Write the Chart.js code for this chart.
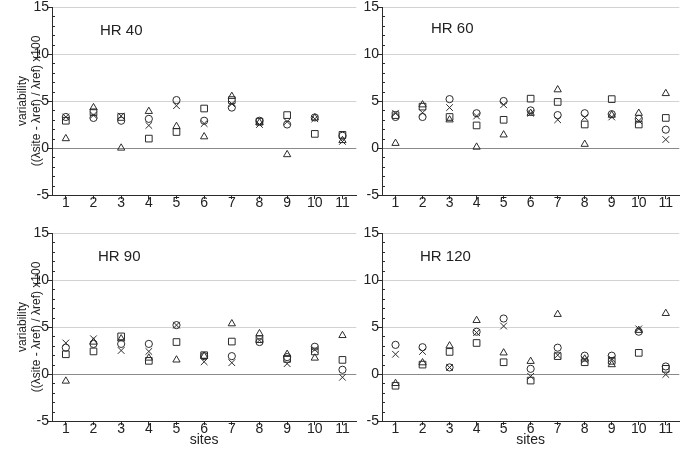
<!DOCTYPE html>
<html>
<head>
<meta charset="utf-8">
<script src="https://cdn.jsdelivr.net/npm/chart.js@4/dist/chart.umd.min.js"></script>
<style>
  body { margin: 0; background: #fff; width: 685px; height: 456px; position: relative; overflow: hidden; }
  .panel { position: absolute; }
</style>
</head>
<body>
<div class="panel" style="left:0;top:0;width:362px;height:225px"><canvas id="c40"></canvas></div>
<div class="panel" style="left:345px;top:0;width:340px;height:225px"><canvas id="c60"></canvas></div>
<div class="panel" style="left:0;top:225px;width:362px;height:231px"><canvas id="c90"></canvas></div>
<div class="panel" style="left:345px;top:225px;width:340px;height:231px"><canvas id="c120"></canvas></div>
<script>
// sites on the x axis
const sites = ['1', '2', '3', '4', '5', '6', '7', '8', '9', '10', '11'];

// HR 40
const hr40Circle   = [3.3, 3.2, 2.9, 3.1, 5.1, 2.9, 4.3, 2.9, 2.5, 3.25, 1.3];
const hr40Square   = [2.9, 3.8, 3.3, 1.0, 1.7, 4.2, 5.1, 2.8, 3.5, 1.5, 1.4];
const hr40Triangle = [1.0, 4.3, 0.0, 3.9, 2.3, 1.2, 5.5, 2.7, -0.7, 3.2, 0.8];
const hr40Cross    = [3.3, 3.5, 3.4, 2.4, 4.5, 2.6, 4.7, 2.5, 2.8, 3.1, 0.7];

// HR 60
const hr60Circle   = [3.3, 3.3, 5.2, 3.7, 5.0, 4.0, 3.5, 3.7, 3.6, 3.1, 1.95];
const hr60Square   = [3.5, 4.4, 3.3, 2.4, 3.0, 5.25, 4.9, 2.5, 5.2, 2.5, 3.2];
const hr60Triangle = [0.5, 4.6, 3.0, 0.1, 1.4, 3.7, 6.2, 0.4, 3.5, 3.7, 5.8];
const hr60Cross    = [3.7, 3.75, 4.3, 3.4, 4.6, 3.7, 3.0, 3.25, 3.3, 2.9, 0.9];

// HR 90
const hr90Circle   = [2.8, 3.2, 3.2, 3.2, 5.2, 1.9, 1.9, 3.4, 1.8, 2.9, 0.45];
const hr90Square   = [2.1, 2.4, 4.0, 1.4, 3.4, 2.0, 3.45, 3.7, 1.6, 2.4, 1.5];
const hr90Triangle = [-0.75, 3.4, 3.75, 1.7, 1.5, 1.9, 5.35, 4.3, 2.1, 1.7, 4.1];
const hr90Cross    = [3.3, 3.75, 2.5, 2.4, 5.2, 1.3, 1.2, 3.6, 1.1, 2.6, -0.35];

// HR 120
const hr120Circle   = [3.1, 2.85, 0.7, 4.5, 5.9, 0.55, 2.8, 1.95, 1.95, 4.5, 0.8];
const hr120Square   = [-1.25, 1.0, 2.35, 3.3, 1.25, -0.7, 1.9, 1.25, 1.4, 2.25, 0.55];
const hr120Triangle = [-1.0, 1.2, 3.0, 5.7, 2.25, 1.35, 6.35, 1.6, 1.0, 4.65, 6.45];
const hr120Cross    = [2.1, 2.4, 0.7, 4.4, 5.1, -0.25, 2.0, 1.5, 1.6, 4.8, -0.05];

const yTicks = [-5, 0, 5, 10, 15];

const ink = '#2b2b2b';
const fontFamily = "'Liberation Sans', Arial, sans-serif";

// panel label (HR xx) and small inner minor ticks on the y axis
const panelDecor = {
  id: 'panelDecor',
  afterDraw(chart, args, opts) {
    const { ctx, chartArea } = chart;
    const y = chart.scales.y;
    ctx.save();
    ctx.strokeStyle = ink;
    ctx.lineWidth = 1;
    for (let v = -5; v <= 15; v++) {
      if (v % 5 === 0) continue;
      const py = Math.round(y.getPixelForValue(v)) + 0.5;
      ctx.beginPath();
      ctx.moveTo(chartArea.left, py);
      ctx.lineTo(chartArea.left + 3, py);
      ctx.stroke();
    }
    ctx.fillStyle = '#222';
    ctx.font = '15px ' + fontFamily;
    ctx.textBaseline = 'middle';
    ctx.fillText(opts.text, chartArea.left + opts.dx, chartArea.top + opts.dy);
    ctx.restore();
  }
};

function series(data, style, radius) {
  return {
    data: data,
    showLine: false,
    pointStyle: style,
    pointRadius: radius,
    pointHoverRadius: radius,
    pointBorderWidth: 1,
    borderColor: ink,
    backgroundColor: 'rgba(0,0,0,0)',
    pointBackgroundColor: 'rgba(0,0,0,0)'
  };
}

function makeChart(id, label, dx, dy, sets, opts) {
  new Chart(document.getElementById(id), {
    type: 'line',
    data: {
      labels: sites,
      datasets: [
        series(sets[0], 'circle', 3.6),
        series(sets[1], 'rect', 4.7),
        series(sets[2], 'triangle', 4.2),
        series(sets[3], 'crossRot', 4.7)
      ]
    },
    options: {
      responsive: true,
      maintainAspectRatio: false,
      animation: false,
      events: [],
      layout: { padding: { top: opts.top, right: opts.right, bottom: 0, left: 0 } },
      scales: {
        x: {
          type: 'category',
          offset: true,
          grid: { drawOnChartArea: false, tickLength: 4, color: ink },
          border: { color: ink, width: 1 },
          ticks: { color: '#222', font: { size: 14, family: fontFamily, lineHeight: 1 }, padding: -3, maxRotation: 0, autoSkip: false },
          title: {
            display: opts.xTitle,
            text: 'sites',
            color: '#222',
            font: { size: 14, family: fontFamily },
            padding: { top: 0, bottom: opts.xTitlePad }
          },
          afterFit: s => { s.height = opts.xHeight; }
        },
        y: {
          type: 'linear',
          min: -5,
          max: 15,
          afterBuildTicks: s => { s.ticks = yTicks.map(v => ({ value: v })); },
          grid: {
            tickLength: 5,
            tickColor: ink,
            color: c => c.tick && c.tick.value === 0 ? '#8a8a8a' : '#d2d2d2'
          },
          border: { color: ink, width: 1 },
          ticks: { color: '#222', font: { size: 14, family: fontFamily, lineHeight: 1 }, padding: -2 },
          title: {
            display: opts.yTitle,
            text: ['variability', '((\u03bbsite - \u03bbref) / \u03bbref) x100'],
            color: '#222',
            font: { size: 12, family: fontFamily, lineHeight: 1.15 },
            padding: { top: 16, bottom: 0 }
          },
          afterFit: s => { s.width = opts.yWidth; }
        }
      },
      plugins: {
        legend: { display: false },
        tooltip: { enabled: false },
        panelDecor: { text: label, dx: dx, dy: dy }
      }
    },
    plugins: [panelDecor]
  });
}

makeChart('c40', 'HR 40', 48, 24,
  [hr40Circle, hr40Square, hr40Triangle, hr40Cross],
  { top: 7, right: 5, xHeight: 30, yWidth: 52, yTitle: true, xTitle: false, xTitlePad: 0 });
makeChart('c60', 'HR 60', 49, 22,
  [hr60Circle, hr60Square, hr60Triangle, hr60Cross],
  { top: 7, right: 3, xHeight: 30, yWidth: 37, yTitle: false, xTitle: false, xTitlePad: 0 });
makeChart('c90', 'HR 90', 46, 24,
  [hr90Circle, hr90Square, hr90Triangle, hr90Cross],
  { top: 8, right: 5, xHeight: 35, yWidth: 52, yTitle: true, xTitle: true, xTitlePad: 7 });
makeChart('c120', 'HR 120', 38, 24,
  [hr120Circle, hr120Square, hr120Triangle, hr120Cross],
  { top: 8, right: 3, xHeight: 35, yWidth: 37, yTitle: false, xTitle: true, xTitlePad: 7 });
</script>
</body>
</html>
